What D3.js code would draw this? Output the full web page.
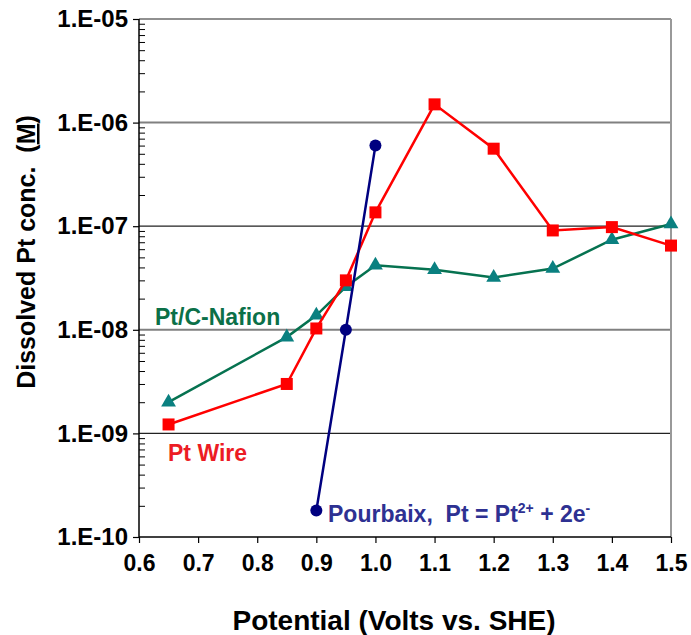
<!DOCTYPE html>
<html>
<head>
<meta charset="utf-8">
<script src="https://cdn.jsdelivr.net/npm/d3@7"></script>
<style>
  body { margin: 0; background: #fff; }
  svg text { font-family: "Liberation Sans", Arial, sans-serif; font-weight: bold; }
  .axis path { display: none; }
</style>
</head>
<body>
<div id="chart"></div>
<script>
// Dissolved Pt concentration vs potential

////////////////////////////////////////////////////////////////////////////////
// Data
const potentials = [0.65, 0.85, 0.9, 0.95, 1.0, 1.1, 1.2, 1.3, 1.4, 1.5];
const ptWire = [1.22e-9, 3.0e-9, 1.03e-8, 3.0e-8, 1.36e-7, 1.5e-6, 5.6e-7, 9.1e-8, 9.8e-8, 6.5e-8];
const ptCNafion = [2.0e-9, 8.5e-9, 1.38e-8, 2.6e-8, 4.2e-8, 3.8e-8, 3.2e-8, 3.9e-8, 7.4e-8, 1.05e-7];
const pourbaixX = [0.9, 0.95, 1.0];
const pourbaix = [1.8e-10, 1.0e-8, 6.0e-7];
const xTicks = [0.6, 0.7, 0.8, 0.9, 1.0, 1.1, 1.2, 1.3, 1.4, 1.5];
const yTicks = [1e-10, 1e-9, 1e-8, 1e-7, 1e-6, 1e-5];
const yTickLabels = ['1.E-10', '1.E-09', '1.E-08', '1.E-07', '1.E-06', '1.E-05'];

////////////////////////////////////////////////////////////////////////////////
// Setup
const W = 691, H = 635;
const margin = { left: 139, top: 19, right: 20, bottom: 98 };
const width = W - margin.left - margin.right;
const height = H - margin.top - margin.bottom;

const x = d3.scaleLinear().domain([0.6, 1.5]).range([0, width]);
const y = d3.scaleLog().domain([1e-10, 1e-5]).range([height, 0]);

const svg = d3.select('#chart').append('svg')
  .attr('width', W)
  .attr('height', H);
const frame = svg.append('g')
  .attr('transform', `translate(${margin.left}, ${margin.top})`);

// gridlines
frame.append('g')
  .selectAll('line')
  .data(yTicks.slice(1))
  .enter().append('line')
    .attr('x1', 0).attr('x2', width)
    .attr('y1', d => y(d)).attr('y2', d => y(d))
    .attr('stroke', (d, i) => (i % 2 === 0) ? '#222' : '#808080')
    .attr('stroke-width', (d, i) => (i % 2 === 0) ? 1.2 : 2);

// right border
frame.append('line')
  .attr('x1', width).attr('x2', width)
  .attr('y1', 0).attr('y2', height)
  .attr('stroke', '#999').attr('stroke-width', 2);

// minor ticks (inside)
const minor = [];
yTicks.slice(0, -1).forEach(t => {
  for (let k = 2; k <= 9; k++) minor.push(t * k);
});
frame.append('g')
  .attr('class', 'axis')
  .call(d3.axisRight(y).tickValues(minor).tickSize(6).tickFormat(''))
  .selectAll('line').attr('stroke', '#000').attr('stroke-width', 1);

// left axis major
const yAxis = frame.append('g')
  .attr('class', 'axis')
  .call(d3.axisLeft(y).tickValues(yTicks).tickSize(6).tickPadding(5)
    .tickFormat((d, i) => yTickLabels[i]));
yAxis.selectAll('line').attr('stroke', '#000').attr('stroke-width', 1.2);
yAxis.selectAll('text')
  .attr('font-size', 24).attr('fill', '#000')
  .attr('font-family', '"Liberation Sans", Arial, sans-serif');

frame.append('line')
  .attr('x1', 0).attr('x2', 0).attr('y1', 0).attr('y2', height)
  .attr('stroke', '#000').attr('stroke-width', 1.5);

// bottom axis
const xAxis = frame.append('g')
  .attr('class', 'axis')
  .attr('transform', `translate(0, ${height})`)
  .call(d3.axisBottom(x).tickValues(xTicks).tickSize(6).tickPadding(12)
    .tickFormat(d3.format('.1f')));
xAxis.selectAll('line').attr('stroke', '#000').attr('stroke-width', 1.2);
xAxis.selectAll('text')
  .attr('font-size', 23).attr('fill', '#000')
  .attr('font-family', '"Liberation Sans", Arial, sans-serif');

frame.append('line')
  .attr('x1', 0).attr('x2', width).attr('y1', height).attr('y2', height)
  .attr('stroke', '#000').attr('stroke-width', 1.5);

////////////////////////////////////////////////////////////////////////////////
// Series
const line = d3.line().x(d => x(d[0])).y(d => y(d[1]));

const nafionPts = potentials.map((p, i) => [p, ptCNafion[i]]);
const wirePts = potentials.map((p, i) => [p, ptWire[i]]);
const pourbaixPts = pourbaixX.map((p, i) => [p, pourbaix[i]]);

frame.append('path').datum(nafionPts)
  .attr('d', line).attr('fill', 'none')
  .attr('stroke', '#067250').attr('stroke-width', 2.5);
frame.append('g').selectAll('path')
  .data(nafionPts).enter().append('path')
    .attr('d', d3.symbol().type(d3.symbolTriangle).size(95))
    .attr('transform', d => `translate(${x(d[0])}, ${y(d[1])})`)
    .attr('fill', '#0a8080');

frame.append('path').datum(wirePts)
  .attr('d', line).attr('fill', 'none')
  .attr('stroke', '#ff0000').attr('stroke-width', 2.5);
frame.append('g').selectAll('rect')
  .data(wirePts).enter().append('rect')
    .attr('x', d => x(d[0]) - 6).attr('y', d => y(d[1]) - 6)
    .attr('width', 12).attr('height', 12)
    .attr('fill', '#ff0000');

frame.append('path').datum(pourbaixPts)
  .attr('d', line).attr('fill', 'none')
  .attr('stroke', '#000080').attr('stroke-width', 2.5);
frame.append('g').selectAll('circle')
  .data(pourbaixPts).enter().append('circle')
    .attr('cx', d => x(d[0])).attr('cy', d => y(d[1]))
    .attr('r', 6)
    .attr('fill', '#000080');

////////////////////////////////////////////////////////////////////////////////
// Labels
svg.append('text')
  .attr('x', 155).attr('y', 325)
  .attr('font-size', 23).attr('fill', '#0b7048')
  .text('Pt/C-Nafion');

svg.append('text')
  .attr('x', 168).attr('y', 461)
  .attr('font-size', 23).attr('fill', '#ec1c24')
  .text('Pt Wire');

const pb = svg.append('text')
  .attr('x', 328).attr('y', 522)
  .attr('font-size', 23).attr('fill', '#2e3192');
pb.append('tspan').text('Pourbaix,\u00a0\u00a0Pt = Pt');
pb.append('tspan').attr('font-size', 14).attr('dy', -9).text('2+');
pb.append('tspan').attr('dy', 9).text(' + 2e');
pb.append('tspan').attr('font-size', 14).attr('dy', -9).text('-');

svg.append('text')
  .attr('x', 394).attr('y', 630)
  .attr('text-anchor', 'middle')
  .attr('font-size', 28).attr('fill', '#000')
  .text('Potential (Volts vs. SHE)');

const yt = svg.append('text')
  .attr('transform', 'translate(35, 252) rotate(-90)')
  .attr('text-anchor', 'middle')
  .attr('font-size', 25).attr('fill', '#000');
yt.append('tspan').text('Dissolved Pt conc.\u00a0\u00a0(');
yt.append('tspan').attr('text-decoration', 'underline').text('M');
yt.append('tspan').text(')');
</script>
</body>
</html>
